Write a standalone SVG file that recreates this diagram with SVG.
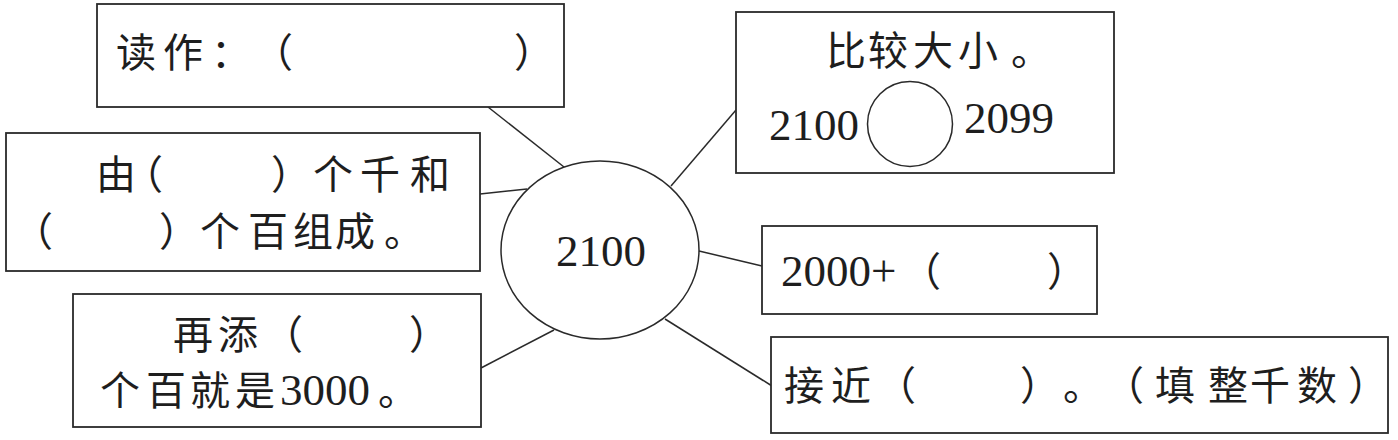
<svg xmlns="http://www.w3.org/2000/svg" width="1398" height="440" viewBox="0 0 1398 440">
<style>
.box{fill:#fff;stroke:#2a2a2a;stroke-width:1.8}
.ring{fill:#fff;stroke:#2a2a2a;stroke-width:1.5}
.conn{stroke:#2a2a2a;stroke-width:1.5;fill:none}
.cjk{font-family:"Noto Sans CJK SC","Noto Sans CJK JP",sans-serif;font-size:40px;fill:#1e1e1e}
.num{font-family:"Liberation Serif","Times New Roman",serif;font-size:45px;fill:#1e1e1e}
</style>
<rect width="1398" height="440" fill="#fff"/>
<g id="connectors">
<line class="conn" x1="488" y1="107" x2="564" y2="167"/>
<line class="conn" x1="480" y1="194" x2="527" y2="189"/>
<line class="conn" x1="481" y1="368" x2="554" y2="330"/>
<line class="conn" x1="671" y1="186" x2="736" y2="110"/>
<line class="conn" x1="699" y1="251" x2="762" y2="266"/>
<line class="conn" x1="665" y1="319" x2="772" y2="386"/>
</g>
<g id="center">
<ellipse class="ring" cx="600" cy="250" rx="99" ry="89"/>
<text class="num" x="601" y="266" text-anchor="middle" font-size="46">2100</text>
</g>
<g id="read">
<rect class="box" x="97" y="4" width="467" height="103"/>
<text class="cjk" x="116 163 211 253 514" y="67">读作：（）</text>
</g>
<g id="compose">
<rect class="box" x="6" y="133" width="474" height="138"/>
<text class="cjk" x="96 123 271 313 360 410" y="189">由（）个千和</text>
<text class="cjk" x="13 159 200 248 293 335 384" y="246">（）个百组成。</text>
</g>
<g id="add">
<rect class="box" x="73" y="294" width="408" height="133"/>
<text class="cjk" x="173 218 263 409" y="349">再添（）</text>
<text class="cjk" x="100 146 190 235" y="405">个百就是</text>
<text class="num" x="280" y="405">3000</text>
<text class="cjk" x="378" y="405">。</text>
</g>
<g id="compare">
<rect class="box" x="736" y="12" width="378" height="161"/>
<text class="cjk" x="826 868 913 958 1011" y="65">比较大小。</text>
<text class="num" x="769" y="140" font-size="44">2100</text>
<circle class="ring" cx="910" cy="124" r="42.5"/>
<text class="num" x="964" y="133" font-size="44">2099</text>
</g>
<g id="sum">
<rect class="box" x="762" y="226" width="335" height="88"/>
<text class="num" x="781" y="286">2000+</text>
<text class="cjk" x="901 1047" y="286">（）</text>
</g>
<g id="near">
<rect class="box" x="771" y="337" width="617" height="96"/>
<text class="cjk" x="784 831 876 1020 1063 1104 1155 1208 1250 1297 1348" y="400">接近（）。（填整千数）</text>
</g>
</svg>
